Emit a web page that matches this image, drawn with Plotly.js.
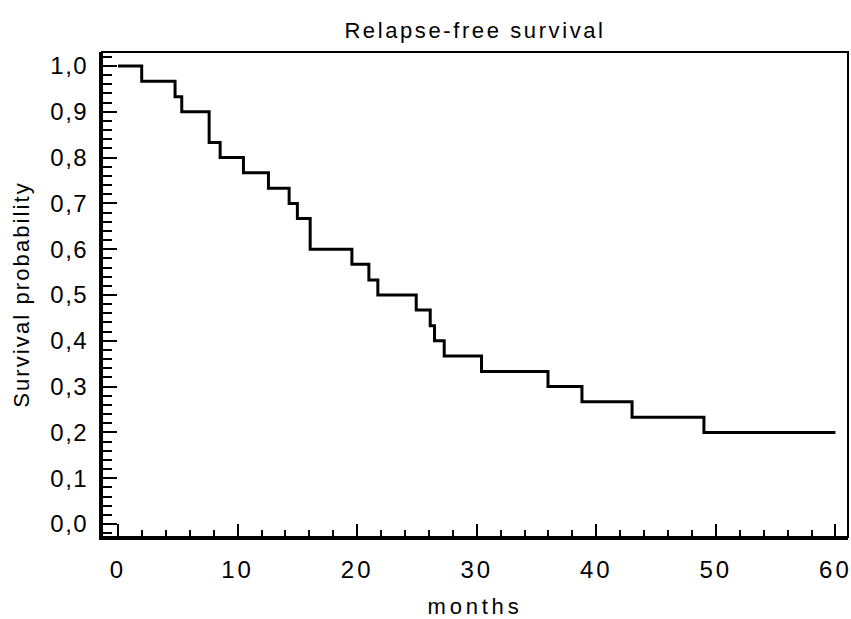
<!DOCTYPE html>
<html><head><meta charset="utf-8">
<script src="https://cdn.plot.ly/plotly-3.0.1.min.js"></script>
<style>
html,body{margin:0;padding:0;background:#fff}
#chart g.xtick text{letter-spacing:3px}
#chart g.ytick text{letter-spacing:1.5px}
#chart .gtitle{letter-spacing:2.6px}
#chart .g-xtitle text{letter-spacing:3.8px}
#chart .g-ytitle text{letter-spacing:2.1px}
</style></head>
<body><div id="chart" style="width:851px;height:619px"></div>
<script>
const months = [0, 1.98, 4.77, 5.33, 7.62, 8.54, 10.49, 12.58, 14.31, 15.0, 16.07, 19.56, 20.98, 21.73, 24.94, 26.11, 26.47, 27.28, 30.4, 35.96, 38.8, 42.99, 49.0, 60];
const survival = [1.0, 0.967, 0.933, 0.9, 0.833, 0.8, 0.767, 0.733, 0.7, 0.667, 0.6, 0.567, 0.533, 0.5, 0.467, 0.433, 0.4, 0.367, 0.333, 0.3, 0.267, 0.233, 0.2, 0.2];
const chartTitle = 'Relapse-free survival';
const xLabel = 'months';
const yLabel = 'Survival probability';

const fam = 'Liberation Sans, Arial, sans-serif';
const tickFont = {family: fam, size: 24, color: '#000'};
const titleFont = {family: fam, size: 22, color: '#000'};
const xRange = [-1.34, 61.05];
const yRange = [-0.0284, 1.0306];

const trace = {
  x: months, y: survival, type: 'scatter', mode: 'lines',
  line: {shape: 'hv', color: '#000', width: 3},
  hoverinfo: 'skip'
};

const layout = {
  width: 851, height: 619,
  margin: {l: 102, r: 3, t: 52, b: 82, pad: 0},
  separators: ',.',
  font: titleFont,
  showlegend: false,
  title: {text: chartTitle, font: titleFont,
          x: 0.5, xref: 'paper', xanchor: 'center', y: 1 - 30/619, yref: 'container', yanchor: 'middle'},
  xaxis: {
    range: xRange, showgrid: false, zeroline: false,
    showline: true, linecolor: '#000', linewidth: 3,
    dtick: 10, ticks: 'inside', ticklen: 13, tickwidth: 2, tickcolor: '#000',
    minor: {dtick: 2, ticks: 'inside', ticklen: 7, tickwidth: 2, tickcolor: '#000'},
    tickfont: tickFont, ticklabelstandoff: 9,
    title: {text: xLabel, font: titleFont, standoff: 19}
  },
  yaxis: {
    range: yRange, showgrid: false, zeroline: false,
    showline: true, linecolor: '#000', linewidth: 3,
    dtick: 0.1, tickformat: '.1f',
    ticks: 'inside', ticklen: 15, tickwidth: 2, tickcolor: '#000',
    minor: {dtick: 0.02, ticks: 'inside', ticklen: 10, tickwidth: 2, tickcolor: '#000'},
    tickfont: tickFont, ticklabelstandoff: 6,
    title: {text: yLabel, font: titleFont, standoff: 20}
  },
  shapes: [{type: 'rect', xref: 'paper', yref: 'paper', x0: 0, x1: 1, y0: 0, y1: 1,
            line: {color: '#000', width: 2}}]
};

Plotly.newPlot('chart', [trace], layout, {staticPlot: true, displayModeBar: false});
</script></body></html>
